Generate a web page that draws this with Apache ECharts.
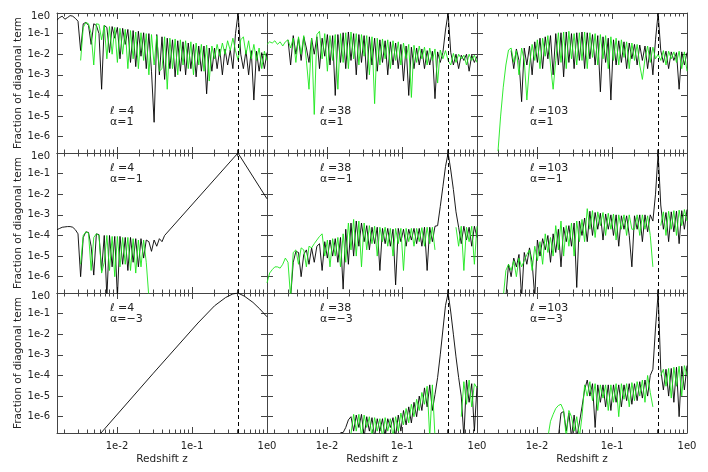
<!DOCTYPE html>
<html><head><meta charset="utf-8">
<script src="https://cdn.jsdelivr.net/npm/echarts@6/dist/echarts.min.js"></script>
<style>html,body{margin:0;padding:0;background:#fff}#c{width:708px;height:472px}</style>
</head><body><div id="c"></div>
<script>
// shared redshift sampling grid
const zGrid = [0.001585, 0.001718, 0.001862, 0.002018, 0.002188, 0.002371, 0.00257, 0.002786, 0.00302, 0.003273,
0.003548, 0.003846, 0.004169, 0.004519, 0.004898, 0.005309, 0.005754, 0.006237, 0.006761, 0.007328,
0.007943, 0.00861, 0.009333, 0.01012, 0.01096, 0.01189, 0.01288, 0.01396, 0.01514, 0.01641,
0.01778, 0.01928, 0.02089, 0.02265, 0.02455, 0.02661, 0.02884, 0.03126, 0.03388, 0.03673,
0.03981, 0.04315, 0.04677, 0.0507, 0.05495, 0.05957, 0.06457, 0.06998, 0.07586, 0.08222,
0.08913, 0.09661, 0.1047, 0.1135, 0.123, 0.1334, 0.1445, 0.1567, 0.1698, 0.1841,
0.1995, 0.2163, 0.2344, 0.2541, 0.2754, 0.2985, 0.3236, 0.3508, 0.3802, 0.4121,
0.4467, 0.4842, 0.5248, 0.5689, 0.6166, 0.6683, 0.7244, 0.7852, 0.8511, 0.9226, 1.0];

const xTickValues = [0.01, 0.1, 1];
const xMinorTickValues = [0.002,0.003,0.004,0.005,0.006,0.007,0.008,0.009,0.02,0.03,0.04,0.05,0.06,0.07,0.08,0.09,0.2,0.3,0.4,0.5,0.6,0.7,0.8,0.9];
const yTickValues = [1e-6,1e-5,1e-4,1e-3,1e-2,1e-1,1];
const ellLabels = ['\u2113 =4', '\u2113 =38', '\u2113 =103'];
const alphaLabels = ['\u03b1=1', '\u03b1=\u22121', '\u03b1=\u22123'];
const xTitle = 'Redshift z';
const yTitle = 'Fraction of diagonal term';
const zDashed = 0.41;

// row 1 : alpha = 1  (arrays start at the given zGrid index)
const black_l4_a1 = [4.5e-1, 6e-1, 7e-1, 5e-1, 6e-1, 7.5e-1, 7e-1, 5.5e-1, 4e-1, 1.5e-2,
 3e-1, 3.5e-1, 2.5e-1, 3e-2, 3e-1, 2.5e-1, 1e-1, 2e-4, 2.5e-1, 2e-1,
 1.2e-2, 2.2e-1, 6e-2, 2e-1, 6e-3, 1.8e-1, 3e-2, 1.6e-1, 4e-3, 1.4e-1,
 2.5e-3, 1.3e-1, 8e-3, 1.1e-1, 2e-3, 1e-1, 1.5e-3, 5e-6, 9e-2, 1e-3,
 7e-2, 6e-4, 6e-2, 2e-3, 5e-2, 8e-4, 4.5e-2, 1.5e-3, 4e-2, 1e-3,
 3.5e-2, 2e-3, 3e-2, 8e-4, 2.5e-2, 1.5e-3, 2.5e-2, 1.2e-4, 2e-2, 1.5e-3,
 2e-2, 2e-3, 1.8e-2, 1e-3, 1.8e-2, 3e-3, 1.6e-2, 2e-3, 1e-1, 1e0,
 1e-2, 2e-3, 1.5e-2, 1e-3, 1.5e-2, 6e-5, 1.4e-2, 1.5e-3, 1.2e-2, 2e-3, 1.2e-2];
const green_l4_a1 = [5e-3,
 2e-1, 3.5e-1, 3e-1, 1e-1, 3e-3, 3e-1, 2.8e-1, 5e-2, 2.5e-1, 6e-3,
 2.2e-1, 1e-2, 2e-1, 4e-3, 1.8e-1, 1e-2, 1.6e-1, 2e-3, 1.4e-1, 6e-3,
 1.2e-1, 2e-3, 1.1e-1, 5e-3, 1e-1, 1e-3, 9e-2, 3e-3, 8e-2, 1.5e-3,
 2e-3, 7e-2, 2e-4, 6e-2, 2e-3, 5.5e-2, 1e-3, 5e-2, 3e-3, 4.5e-2,
 2e-3, 4e-2, 1e-3, 3.5e-2, 3e-3, 3e-2, 1.5e-3, 2.8e-2, 5e-4, 2.5e-2,
 6e-3, 3e-2, 8e-3, 3.5e-2, 1e-2, 4.5e-2, 1.5e-2, 6e-2, 1.5e-2, 5e-3,
 5e-2, 7e-2, 1e-2, 4.5e-2, 6e-3, 3e-2, 5e-3, 2e-2, 2e-3, 1.4e-2, 5e-3];
const black_l38_a1 = [5e-2, 3e-3,
 8e-2, 1e-2, 6e-2, 5e-3, 7e-2, 2e-2, 4e-3, 6e-2, 1e-2, 7e-2,
 2e-3, 6e-2, 8e-3, 9e-2, 3e-3, 8e-2, 1e-4, 9e-2, 4e-3, 1.1e-1,
 2e-3, 1.2e-1, 5e-3, 1e-1, 1e-3, 9e-2, 4e-3, 8e-2, 6e-4, 7e-2,
 3e-3, 6e-2, 1.5e-3, 5e-2, 4e-3, 4.5e-2, 1e-3, 4e-2, 3e-3, 3.5e-2,
 2e-3, 3e-2, 5e-4, 2.5e-2, 1e-4, 2.2e-2, 2e-3, 2e-2, 3e-3, 1.8e-2,
 2e-3, 1.5e-2, 3e-3, 1.4e-2, 7e-5, 1.3e-2, 4e-3, 1.2e-2, 1.5e-1, 1e0,
 1.2e-2, 3e-3, 1e-2, 2e-3, 9e-3, 5e-3, 1e-2, 1.5e-3, 9e-3, 4e-3, 8e-3];
const green_l38_a1 = [3e-2, 4e-2, 3.5e-2, 4.5e-2, 3e-2, 4e-2, 2.5e-2, 4e-2, 5e-2, 2e-2,
 6e-2, 4e-3, 7e-2, 1e-2, 8e-2, 5e-3, 2e-4, 6e-2, 1.2e-5, 9e-2,
 1.3e-1, 6e-3, 1e-1, 1.5e-3, 8e-2, 5e-3, 9e-2, 2e-4, 1e-1, 4e-3,
 1.1e-1, 2e-3, 1.2e-1, 6e-3, 1e-1, 3e-3, 9e-2, 8e-3, 8e-2, 1e-3,
 7e-2, 4e-5, 6e-2, 3e-3, 5.5e-2, 6e-3, 5e-2, 2e-3, 4.5e-2, 5e-3,
 4e-2, 3e-3, 3.5e-2, 6e-3, 3e-2, 8e-5, 2.7e-2, 4e-3, 2.5e-2, 6e-3,
 2.2e-2, 3e-3, 2e-2, 5e-3, 1.8e-2, 4e-4, 1.6e-2, 6e-3, 1.5e-2, 5e-3,
 3e-3, 1.1e-2, 4e-3, 1e-2, 6e-3, 9e-3, 3e-3, 1e-2, 5e-3, 9e-3, 4e-3];
const black_l103_a1 = [1.5e-2, 2e-3, 1.8e-2, 5e-3, 5e-5, 2e-2, 3e-3,
 2.5e-2, 1e-3, 4e-2, 4e-3, 6e-2, 2e-3, 7e-2, 6e-3, 8e-2, 1e-3,
 1e-1, 3e-3, 1.1e-1, 8e-4, 1.2e-1, 4e-3, 1e-1, 2e-3, 1.1e-1, 5e-3,
 1.2e-1, 2e-3, 1.1e-1, 6e-3, 9e-2, 3e-3, 8e-2, 1.5e-4, 7e-2, 4e-3,
 6e-2, 6e-5, 5e-2, 3e-3, 4.5e-2, 4e-3, 4e-2, 2e-3, 3.5e-2, 6e-3,
 3e-2, 3e-3, 2.8e-2, 5e-3, 2.5e-2, 2e-3, 2.2e-2, 1e-3, 5e-2, 1e0,
 1.5e-2, 4e-3, 1.4e-2, 2e-3, 1.3e-2, 5e-3, 1.2e-2, 2e-4, 1.3e-2, 3e-3, 1.2e-2];
const green_l103_a1 = [2e-7, 1e-5,
 2.5e-4, 3e-3, 1.6e-2, 2e-2, 4e-3, 1.5e-2, 1e-3, 2e-2, 5e-3, 6e-5,
 3e-3, 3e-2, 5e-3, 5e-2, 2e-3, 6e-2, 8e-3, 8e-2, 3e-3, 2e-4,
 5e-3, 1.1e-1, 4e-3, 1.2e-1, 2e-3, 1.3e-1, 6e-3, 1e-1, 3e-3, 1.1e-1,
 5e-3, 1.2e-1, 2e-3, 1.1e-1, 7e-3, 1e-1, 3e-3, 9e-2, 6e-3, 8e-2,
 2e-3, 7e-2, 5e-3, 6e-2, 3e-3, 5e-2, 7e-3, 4e-2, 2e-3, 3.5e-2,
 5e-3, 3e-2, 3e-3, 6e-4, 6e-3, 2.5e-2, 4e-3, 2.2e-2, 6e-3, 1e-2,
 5e-3, 1.5e-2, 3e-3, 1.4e-2, 6e-3, 1.3e-2, 4e-3, 1.4e-2, 2e-3, 1.3e-2, 1.5e-3];

// row 2 : alpha = -1
const black_l4_am1 = [1.9e-4, 2.2e-4, 2.5e-4, 2.6e-4, 2.7e-4, 2.7e-4, 2.5e-4, 1.9e-4, 1.2e-4, 1e-6,
 8e-5, 1.5e-4, 1.4e-4, 3e-5, 1.2e-6, 1.2e-4, 1.1e-4, 2e-6, 1e-4, 1e-7,
 1e-4, 3e-6, 9e-5, 1e-7, 9e-5, 4e-6, 8e-5, 2e-6, 8e-5, 5e-6,
 7e-5, 3e-6, 7e-5, 8e-6, 6e-5, 5e-5, 1.7e-5, 6e-5, 3e-5, 7e-5,
 5e-5, 1e-4];
const peakZ_l4_am1 = [0.41, 1.0];
const peakV_l4_am1 = [1e0, 6e-3];
const green_l4_am1 = [4e-6, 1e-4, 1.5e-4, 1.3e-4, 2e-6, 8e-5, 1.2e-4, 1e-4, 1.5e-6,
 5e-6, 1e-4, 2e-6, 9e-5, 1e-6, 9e-5, 3e-6, 8e-5, 4e-6, 8e-5, 2e-6, 7e-5,
 1.5e-6, 6e-5, 3e-6, 6e-5, 5e-6, 1e-7];
const black_l38_am1 = [1e-7,
 5e-6, 1.7e-5, 1.5e-5, 1e-6, 1.2e-5, 2e-5, 4e-6, 2.5e-5, 5e-6, 3e-5,
 4e-5, 2e-6, 5e-5, 8e-6, 6e-5, 1e-5, 7e-5, 5e-6, 8e-5, 2.5e-7,
 2e-4, 4e-6, 4e-4, 1e-5, 5e-4, 3e-5, 4e-4, 5e-5, 3e-4, 2e-5,
 2.5e-4, 4e-5, 2.5e-4, 2e-6, 2.2e-4, 4e-5, 2.2e-4, 3e-5, 2e-4, 4e-7,
 2.2e-4, 5e-5, 2e-4, 3e-5, 2e-4, 6e-5, 2.2e-4, 4e-5, 2.2e-4, 3e-5,
 2.5e-4, 2e-6, 2.5e-4, 5e-5, 2.8e-4, 3e-4, 2.5e-3, 2.3e-2, 2.2e-1, 1e0,
 1.5e-1, 1.7e-2, 1.4e-3, 2.5e-4, 4e-5, 2.8e-4, 6e-5, 2.5e-4, 3e-5, 2.8e-4, 8e-5];
const green_l38_am1 = [5e-7, 1.5e-6, 2.2e-6, 3e-6, 3e-6, 2.6e-6, 4e-6, 8e-6, 5e-6, 1e-7,
 1.5e-5, 2e-5, 4e-6, 2.5e-5, 2e-5, 3e-6, 3e-5, 2.5e-5, 4e-5, 6e-5,
 9e-5, 1.2e-4, 1e-5, 6e-5, 3e-6, 7e-5, 1e-5, 8e-5, 3e-6, 1.2e-4,
 5e-6, 4e-4, 2e-5, 6e-4, 1e-5, 5e-4, 3e-6, 4e-4, 2e-5, 3e-4,
 4e-5, 2.8e-4, 1e-5, 2.5e-4, 5e-5, 2.5e-4, 3e-5, 2.2e-4, 1e-5, 2.2e-4,
 4e-5, 2.2e-4, 2e-6, 2.2e-4, 5e-5, 2.2e-4, 3e-5, 2.2e-4, 5e-5, 2.4e-4,
 3e-5, 2.5e-4, 4e-5, 2.5e-4, 2e-5, '-', null, null, null, null,
 null, null, 2.5e-4, 3e-5, 2.8e-4, 2e-6, 2.5e-4, 5e-5, 2.8e-4, 4e-6, 2.8e-4];
const black_l103_am1 = [1e-7, 4e-6, 1e-6, 8e-6, 3e-6, 1.2e-5, 1e-7, 1.5e-5, 4e-6,
 2.5e-5, 5e-6, 1e-7, 6e-5, 1e-5, 7e-5, 2e-5, 1e-4, 5e-6, 1.2e-4,
 1.5e-5, 2e-4, 3e-6, 2.5e-4, 5e-5, 3e-4, 3e-5, 4e-4, 3e-7, 5e-4,
 1e-4, 7e-4, 5e-5, 1.5e-3, 1e-4, 1.3e-3, 2e-4, 1.2e-3, 6e-5, 1.1e-3,
 2e-4, 1e-3, 1e-4, 1e-3, 3e-5, 9e-4, 2e-4, 9e-4, 1e-4, 3e-6,
 9e-4, 2e-4, 1e-3, 5e-5, 1e-3, 1.5e-4, 1e-3, 5e-4, 1e-2, 1e0,
 3e-3, 2e-4, 1.3e-3, 5e-5, 1.4e-3, 1.5e-4, 1.5e-3, 4e-5, 1.6e-3, 2e-4, 1.8e-3];
const green_l103_am1 = [1e-7, 2e-6, 4e-6, 2e-6, 6e-6, 1e-6, 8e-6, 3e-6, 6e-6, 1.2e-5,
 2e-5, 2e-6, 3e-5, 6e-6, 5e-5, 4e-6, 1.2e-4, 1.5e-5, 8e-5, 1e-5,
 3e-4, 2e-5, 5e-4, 1e-5, 3e-4, 3e-5, 4e-4, 1e-5, 5e-4, 5e-5,
 6e-4, 5e-5, 2e-3, 2e-4, 1.6e-3, 8e-5, 1.4e-3, 3e-4, 1.3e-3, 1e-4,
 1.2e-3, 2e-4, 1.1e-3, 6e-5, 1e-3, 2e-4, 1e-3, 1e-4, 1e-3, 2e-4,
 2e-4, 1e-3, 1e-4, 1e-3, 2e-4, 9e-4, 1e-4, 3e-6, '-', null,
 3e-4, 1.4e-3, 1e-4, 1.5e-3, 2e-4, 1.6e-3, 1e-4, 1.7e-3, 3e-4, 1.8e-3, 5e-4];

// row 3 : alpha = -3
const zSmooth_l4_am3 = [0.006, 0.03, 0.12, 0.2, 0.28, 0.35, 0.41, 0.5, 0.65, 0.8, 1.0];
const black_l4_am3 = [1.5e-7, 1.2e-4, 3.5e-2, 2.4e-1, 6e-1, 9e-1, 1e0, 7e-1, 3.5e-1, 1.7e-1, 7e-2];
const black_l38_am3 = [1.7e-7, 1.7e-7, 3e-7, 7e-7, 1e-6, 2e-7, 1.2e-6, 3e-7, 1.3e-6, 1e-7, 1e-6, 2e-7,
 9e-7, 1e-7, 8e-7, 2e-7, 8e-7, 1e-7, 8e-7, 3e-7, 9e-7, 1e-7,
 1.2e-6, 2e-7, 2e-6, 4e-7, 3e-6, 5e-7, 5e-6, 1e-6, 1e-5, 2e-6,
 2.5e-5, 3e-6, 3.5e-5, 2e-6, 1.2e-5, 8e-5, 1e-3, 1.6e-2, 2.5e-1, 1e0,
 1.2e-1, 1e-2, 8e-4, 8e-5, 1e-5, 1e-7, 6e-5, 5e-6, 4e-5, 2e-7, 3e-5];
const green_l38_am3 = [1e-7, 1.5e-7, 1.3e-6, 2e-7, 1.3e-6, 1e-7, 1.2e-6, 3e-7, 1e-6,
 1e-7, 9e-7, 2e-7, 8e-7, 1e-7, 9e-7, 2e-7, 8e-7, 1e-7, 1e-6,
 2e-7, 1.5e-6, 4e-7, 2.5e-6, 5e-7, 4e-6, 1e-6, 7e-6, 2e-6, 1.5e-5,
 4e-6, 3e-5, 1e-7, 3.5e-5, 1e-7, '-', null, null, null, null,
 null, null, null, null, 1e-6, 5e-5, 4e-6, 6e-5, 3e-6, 4e-5, 2.5e-5];
const black_l103_am3 = [1e-7, 1.5e-6, 1.8e-6, 2e-7, 1.5e-6, 1e-7, 1.2e-6, 1e-7, 5e-7,
 3e-6, 2e-5, 6e-5, 1e-5, 4e-5, 3e-7, 3.5e-5, 5e-6, 3.5e-5, 3e-6,
 3.5e-5, 2e-6, 3.5e-5, 5e-6, 3.5e-5, 3e-6, 3.5e-5, 6e-6, 4e-5, 4e-6,
 4e-5, 6e-6, 5e-5, 8e-6, 6e-5, 1e-5, 1e-4, 2e-4, 2e-2, 1e0,
 2e-4, 2e-5, 2e-4, 1e-5, 2.2e-4, 5e-6, 2.5e-4, 1e-6, 2.8e-4, 2e-5, 3e-4];
const green_l103_am3 = [1e-7, 6e-7, 1.3e-6, 2.5e-6, 3.5e-6, 4e-6, 2e-6, 1e-7, 2e-6, 1e-6, 2e-7, 1e-6, 1e-7,
 1e-6, 3.5e-5, 1e-5, 5e-5, 6e-6, 4e-5, 2e-6, 3.5e-5, 8e-6, 3.5e-5,
 2e-6, 3.5e-5, 5e-6, 4e-5, 1e-6, 4e-5, 7e-6, 4e-5, 3e-6, 4.5e-5,
 6e-6, 5e-5, 1e-5, 6e-5, 5e-6, 1e-4, 1.5e-5, 3e-6, '-', null,
 1e-4, 2e-4, 3e-5, 2.2e-4, 8e-6, 2.5e-4, 3e-5, 2.8e-4, 1e-5, 3e-4, 1e-4];

function gridPts(start, ys, extraZ, extraV) {
  const out = [];
  ys.forEach((v, k) => {
    if (v === null) return;
    out.push([zGrid[start + k], v]);
  });
  if (extraZ) extraZ.forEach((z, k) => out.push([z, extraV[k]]));
  return out;
}
function pairPts(zs, vs) { return zs.map((z, k) => [z, vs[k]]); }

const panels = [
  { black: gridPts(0, black_l4_a1), green: gridPts(9, green_l4_a1) },
  { black: gridPts(8, black_l38_a1), green: gridPts(0, green_l38_a1) },
  { black: gridPts(13, black_l103_a1), green: gridPts(8, green_l103_a1) },
  { black: gridPts(0, black_l4_am1, peakZ_l4_am1, peakV_l4_am1), green: gridPts(9, green_l4_am1) },
  { black: gridPts(9, black_l38_am1), green: gridPts(0, green_l38_am1) },
  { black: gridPts(11, black_l103_am1), green: gridPts(10, green_l103_am1) },
  { black: pairPts(zSmooth_l4_am3, black_l4_am3), green: null },
  { black: gridPts(28, black_l38_am3), green: gridPts(31, green_l38_am3) },
  { black: gridPts(31, black_l103_am3), green: gridPts(27, green_l103_am3) }
];

const XMIN = 0.0015849, XMAX = 1, YMIN = 1.62e-7, YMAX = 1;
const LEFT0 = 57, TOP0 = 13, PW = 210, PH = 140;
const FONT = 'DejaVu Sans';
const axisCol = '#444';
const labelCol = '#222';
const fmtX = v => '1e' + Math.round(Math.log10(v));
const fmtY = v => { const n = Math.round(Math.log10(v)); return n === 0 ? '{top|1e0}' : '1e' + n; };

const grids = [], xAxes = [], yAxes = [], series = [], graphics = [];
for (let r = 0; r < 3; r++) {
  for (let c = 0; c < 3; c++) {
    const k = r * 3 + c;
    grids.push({ left: LEFT0 + c * PW, top: TOP0 + r * PH, width: PW, height: PH, outerBoundsMode: 'none', containLabel: false });
    const xBase = {
      gridIndex: k, type: 'log', logBase: 10, min: XMIN, max: XMAX,
      splitLine: { show: false }, minorTick: { show: false }
    };
    const lineSt = { color: axisCol, width: 1 };
    xAxes.push(Object.assign({}, xBase, {
      position: 'bottom',
      axisLine: { show: true, onZero: false, lineStyle: lineSt },
      axisTick: { show: true, inside: true, length: 6, customValues: xTickValues, lineStyle: lineSt },
      axisLabel: { show: r === 2, customValues: xTickValues, formatter: fmtX, margin: 8,
        fontFamily: FONT, fontSize: 10, color: labelCol },
      name: r === 2 ? xTitle : '', nameLocation: 'middle', nameGap: 21,
      nameTextStyle: { fontFamily: FONT, fontSize: 10.5, color: labelCol }
    }));
    xAxes.push(Object.assign({}, xBase, {
      position: 'bottom',
      axisLine: { show: false, onZero: false },
      axisTick: { show: true, inside: true, length: 3.5, customValues: xMinorTickValues, lineStyle: lineSt },
      axisLabel: { show: false }
    }));
    xAxes.push(Object.assign({}, xBase, {
      position: 'top',
      axisLine: { show: true, onZero: false, lineStyle: lineSt },
      axisTick: { show: true, inside: true, length: 6, customValues: xTickValues, lineStyle: lineSt },
      axisLabel: { show: false }
    }));
    xAxes.push(Object.assign({}, xBase, {
      position: 'top',
      axisLine: { show: false, onZero: false },
      axisTick: { show: true, inside: true, length: 3.5, customValues: xMinorTickValues, lineStyle: lineSt },
      axisLabel: { show: false }
    }));
    const yBase = {
      gridIndex: k, type: 'log', logBase: 10, min: YMIN, max: YMAX,
      splitLine: { show: false }, minorTick: { show: false }
    };
    yAxes.push(Object.assign({}, yBase, {
      position: 'left',
      axisLine: { show: true, onZero: false, lineStyle: lineSt },
      axisTick: { show: true, inside: true, length: 6, customValues: yTickValues, lineStyle: lineSt },
      axisLabel: { show: c === 0, customValues: yTickValues, formatter: fmtY, margin: 7,
        fontFamily: FONT, fontSize: 10, color: labelCol,
        rich: { top: { fontFamily: FONT, fontSize: 10, color: labelCol, padding: [7, 0, 0, 0] } } },
      name: c === 0 ? yTitle : '', nameLocation: 'middle', nameRotate: 90, nameGap: 30,
      nameTextStyle: { fontFamily: FONT, fontSize: 10.5, color: labelCol }
    }));
    yAxes.push(Object.assign({}, yBase, {
      position: 'right',
      axisLine: { show: true, onZero: false, lineStyle: lineSt },
      axisTick: { show: true, inside: true, length: 6, customValues: yTickValues, lineStyle: lineSt },
      axisLabel: { show: false }
    }));

    const p = panels[k];
    series.push({
      type: 'line', xAxisIndex: 4 * k, yAxisIndex: 2 * k,
      data: p.black, showSymbol: false, symbol: 'none', connectNulls: false, clip: true,
      lineStyle: { color: '#000', width: 0.9 }, z: 2, silent: true,
      markLine: {
        silent: true, symbol: ['none', 'none'], label: { show: false },
        lineStyle: { color: '#000', type: [4, 3], width: 1 },
        data: [{ xAxis: zDashed }]
      }
    });
    if (p.green) {
      series.push({
        type: 'line', xAxisIndex: 4 * k, yAxisIndex: 2 * k,
        data: p.green, showSymbol: false, symbol: 'none', connectNulls: false, clip: true,
        lineStyle: { color: '#1be81b', width: 0.9 }, z: 3, silent: true
      });
    }
    const tTop = [106, 163, 303][r];
    graphics.push({ type: 'text', left: 110 + c * PW, top: tTop,
      style: { text: ellLabels[c], font: '11px "DejaVu Sans"', fill: labelCol } });
    graphics.push({ type: 'text', left: 110 + c * PW, top: tTop + 11,
      style: { text: alphaLabels[r], font: '11px "DejaVu Sans"', fill: labelCol } });
  }
}

const chart = echarts.init(document.getElementById('c'), null, { renderer: 'canvas' });
chart.setOption({
  animation: false,
  backgroundColor: '#fff',
  textStyle: { fontFamily: FONT },
  grid: grids, xAxis: xAxes, yAxis: yAxes, series: series, graphic: graphics
});
</script>
</body></html>
